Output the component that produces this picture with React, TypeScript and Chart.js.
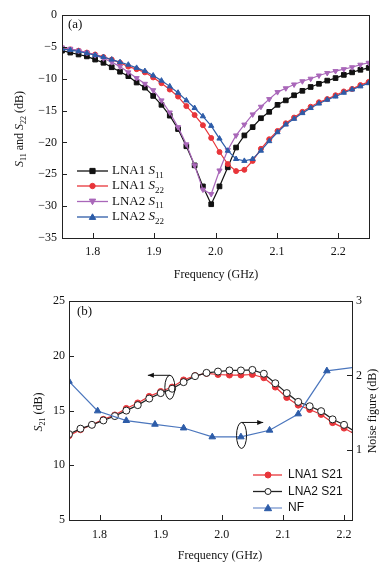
import React, { useEffect, useRef } from 'react';
import { Chart, registerables } from 'chart.js';
Chart.register(...registerables);

// ---------- Data: panel (a) ----------
const freqA = [1.75, 1.7635, 1.777, 1.7905, 1.804, 1.8175, 1.831, 1.8445, 1.858, 1.8715,
  1.885, 1.8985, 1.912, 1.9255, 1.939, 1.9525, 1.966, 1.9795, 1.993, 2.0065,
  2.02, 2.0335, 2.047, 2.0605, 2.074, 2.0875, 2.101, 2.1145, 2.128, 2.1415,
  2.155, 2.1685, 2.182, 2.1955, 2.209, 2.2225, 2.236, 2.2495];
const lna1S11 = [-5.6, -5.9, -6.2, -6.5, -7.0, -7.5, -8.2, -8.9, -9.6, -10.6,
  -11.4, -12.7, -14.1, -15.8, -17.9, -20.6, -23.6, -26.9, -29.7, -26.9,
  -23.9, -20.8, -18.9, -17.6, -16.2, -15.2, -14.1, -13.4, -12.6, -11.9,
  -11.3, -10.8, -10.3, -9.9, -9.4, -9.0, -8.6, -8.3];
const lna1S22 = [-5.2, -5.4, -5.6, -5.9, -6.2, -6.6, -7.0, -7.5, -8.1, -8.5,
  -9.0, -9.8, -10.7, -11.7, -12.8, -14.3, -15.7, -17.3, -19.3, -21.5,
  -23.4, -24.5, -24.3, -22.9, -21.0, -19.5, -18.2, -17.0, -16.1, -15.2,
  -14.4, -13.7, -13.2, -12.6, -12.0, -11.6, -11.0, -10.5];
const lna2S11 = [-5.1, -5.3, -5.6, -5.9, -6.3, -6.8, -7.4, -8.1, -9.0, -9.9,
  -10.8, -11.8, -13.4, -15.3, -17.6, -20.3, -23.6, -27.4, -28.1, -24.4,
  -21.2, -18.9, -17.2, -15.6, -14.4, -13.2, -12.1, -11.5, -10.9, -10.4,
  -10.0, -9.5, -9.1, -8.8, -8.5, -8.2, -7.8, -7.5];
const lna2S22 = [-5.3, -5.5, -5.7, -6.0, -6.3, -6.6, -7.0, -7.4, -7.8, -8.3,
  -8.8, -9.5, -10.3, -11.2, -12.2, -13.4, -14.6, -15.9, -17.4, -19.4,
  -21.3, -22.6, -22.9, -22.6, -21.3, -19.8, -18.4, -17.2, -16.3, -15.4,
  -14.6, -13.9, -13.3, -12.8, -12.2, -11.7, -11.2, -10.7];

// ---------- Data: panel (b) ----------
const freqB = [1.75, 1.76875, 1.7875, 1.80625, 1.825, 1.84375, 1.8625, 1.88125, 1.9, 1.91875,
  1.9375, 1.95625, 1.975, 1.99375, 2.0125, 2.03125, 2.05, 2.06875, 2.0875, 2.10625,
  2.125, 2.14375, 2.1625, 2.18125, 2.2, 2.21875];
const lna1S21 = [12.7, 13.25, 13.7, 14.2, 14.6, 15.2, 15.7, 16.3, 16.75, 17.15,
  17.8, 18.2, 18.4, 18.3, 18.25, 18.25, 18.3, 18.0, 17.15, 16.2,
  15.5, 15.1, 14.65, 13.9, 13.4, 12.8];
const lna2S21 = [12.85, 13.35, 13.7, 14.1, 14.5, 15.0, 15.5, 16.1, 16.6, 17.0,
  17.6, 18.15, 18.45, 18.57, 18.67, 18.67, 18.72, 18.37, 17.5, 16.6,
  15.8, 15.4, 14.95, 14.2, 13.7, 13.05];
const freqNF = [1.75, 1.796875, 1.84375, 1.890625, 1.9375, 1.984375, 2.03125, 2.078125, 2.125, 2.171875, 2.21875];
const nfValues = [1.92, 1.52, 1.39, 1.34, 1.29, 1.17, 1.17, 1.26, 1.48, 2.06, 2.11];

// ---------- Ticks ----------
const xTicks = [1.8, 1.9, 2.0, 2.1, 2.2];
const yTicksA = [-35, -30, -25, -20, -15, -10, -5, 0];
const yTicksB = [5, 10, 15, 20, 25];
const nfTicks = [1, 2, 3];

const SERIF = "'Liberation Serif', 'Times New Roman', serif";
const SANS = "'Liberation Sans', Arial, sans-serif";
const BLACK = '#111111';
const RED = '#e8353a';
const PURPLE = '#a967b9';
const BLUE = '#2d5ca8';
const NFLINE = '#4b76bd';
const NFLEG = '#7a98cf';

type Part = { t: string; i?: boolean; sub?: boolean };

function fontStr(p: Part, size: number, fam: string) {
  const s = p.sub ? Math.round(size * 0.68) : size;
  return `${p.i ? 'italic ' : ''}${s}px ${fam}`;
}
function drawRich(ctx: CanvasRenderingContext2D, parts: Part[], x: number, y: number, size: number, fam: string, align: 'left' | 'center') {
  ctx.textBaseline = 'middle';
  ctx.textAlign = 'left';
  let w = 0;
  for (const p of parts) { ctx.font = fontStr(p, size, fam); w += ctx.measureText(p.t).width; }
  let cx = align === 'center' ? x - w / 2 : x;
  for (const p of parts) {
    ctx.font = fontStr(p, size, fam);
    ctx.fillText(p.t, cx, y + (p.sub ? size * 0.32 : 0));
    cx += ctx.measureText(p.t).width;
  }
}
function drawRotated(ctx: CanvasRenderingContext2D, parts: Part[], x: number, y: number, size: number, fam: string) {
  ctx.save();
  ctx.translate(x, y);
  ctx.rotate(-Math.PI / 2);
  drawRich(ctx, parts, 0, 0, size, fam, 'center');
  ctx.restore();
}
function marker(ctx: CanvasRenderingContext2D, style: string, x: number, y: number, r: number, fill: string, stroke: string) {
  ctx.beginPath();
  if (style === 'rect') ctx.rect(x - r, y - r, 2 * r, 2 * r);
  else if (style === 'circle') ctx.arc(x, y, r, 0, Math.PI * 2);
  else if (style === 'tri') { ctx.moveTo(x, y - r); ctx.lineTo(x + r, y + r * 0.75); ctx.lineTo(x - r, y + r * 0.75); ctx.closePath(); }
  else if (style === 'triDown') { ctx.moveTo(x, y + r); ctx.lineTo(x + r, y - r * 0.75); ctx.lineTo(x - r, y - r * 0.75); ctx.closePath(); }
  ctx.fillStyle = fill; ctx.fill();
  ctx.strokeStyle = stroke; ctx.lineWidth = 1; ctx.stroke();
}
function drawFrameAndTicks(chart: any, rightTicks: boolean) {
  const ctx: CanvasRenderingContext2D = chart.ctx;
  const a = chart.chartArea;
  ctx.save();
  ctx.strokeStyle = '#222';
  ctx.lineWidth = 1;
  ctx.strokeRect(Math.round(a.left) + 0.5, Math.round(a.top) + 0.5, Math.round(a.right - a.left), Math.round(a.bottom - a.top));
  const L = 5;
  ctx.beginPath();
  const xs = chart.scales.x;
  xTicks.forEach(v => { const px = Math.round(xs.getPixelForValue(v)) + 0.5; ctx.moveTo(px, a.bottom); ctx.lineTo(px, a.bottom - L); });
  const ys = chart.scales.y;
  ys.ticks.forEach((t: any) => { const py = Math.round(ys.getPixelForValue(t.value)) + 0.5; ctx.moveTo(a.left, py); ctx.lineTo(a.left + L, py); });
  if (rightTicks) {
    const y1 = chart.scales.y1;
    y1.ticks.forEach((t: any) => { const py = Math.round(y1.getPixelForValue(t.value)) + 0.5; ctx.moveTo(a.right, py); ctx.lineTo(a.right - L, py); });
  }
  ctx.stroke();
  ctx.restore();
}
function arrow(ctx: CanvasRenderingContext2D, x1: number, y1: number, x2: number, y2: number) {
  ctx.beginPath(); ctx.moveTo(x1, y1); ctx.lineTo(x2, y2); ctx.stroke();
  const dir = Math.sign(x2 - x1) || 1;
  ctx.beginPath();
  ctx.moveTo(x2, y2);
  ctx.lineTo(x2 - dir * 6, y2 - 2.5);
  ctx.lineTo(x2 - dir * 6, y2 + 2.5);
  ctx.closePath();
  ctx.fill();
}

const decorA = {
  id: 'decorA',
  afterDraw(chart: any) {
    const ctx: CanvasRenderingContext2D = chart.ctx;
    drawFrameAndTicks(chart, false);
    ctx.save();
    ctx.fillStyle = '#111';
    drawRich(ctx, [{ t: '(a)' }], 68, 25, 13, SERIF, 'left');
    drawRich(ctx, [{ t: 'Frequency (GHz)' }], 216, 275, 12, SERIF, 'center');
    drawRotated(ctx, [{ t: 'S', i: true }, { t: '11', sub: true }, { t: ' and ' }, { t: 'S', i: true }, { t: '22', sub: true }, { t: ' (dB)' }], 20, 129, 12, SERIF);
    const items = [
      { c: BLACK, s: 'rect', r: 2.6, lab: 'LNA1 ', sub: '11' },
      { c: RED, s: 'circle', r: 2.7, lab: 'LNA1 ', sub: '22' },
      { c: PURPLE, s: 'triDown', r: 3.2, lab: 'LNA2 ', sub: '11' },
      { c: BLUE, s: 'tri', r: 3.2, lab: 'LNA2 ', sub: '22' },
    ];
    const rows = [171, 186, 201.5, 217];
    items.forEach((it, k) => {
      const y = rows[k];
      ctx.strokeStyle = it.c; ctx.lineWidth = 1.3;
      ctx.beginPath(); ctx.moveTo(77, y); ctx.lineTo(108, y); ctx.stroke();
      marker(ctx, it.s, 92.5, y, it.r, it.c, it.c);
      ctx.fillStyle = '#111';
      drawRich(ctx, [{ t: it.lab }, { t: 'S', i: true }, { t: it.sub, sub: true }], 112, y, 13, SERIF, 'left');
    });
    ctx.restore();
  },
};

const decorB = {
  id: 'decorB',
  afterDraw(chart: any) {
    const ctx: CanvasRenderingContext2D = chart.ctx;
    drawFrameAndTicks(chart, true);
    const xs = chart.scales.x, ys = chart.scales.y, y1 = chart.scales.y1;
    ctx.save();
    ctx.fillStyle = '#111';
    drawRich(ctx, [{ t: '(b)' }], 77, 22, 13, SERIF, 'left');
    drawRich(ctx, [{ t: 'Frequency (GHz)' }], 220, 266, 12, SERIF, 'center');
    drawRotated(ctx, [{ t: 'S', i: true }, { t: '21', sub: true }, { t: ' (dB)' }], 39, 122, 12, SERIF);
    drawRotated(ctx, [{ t: 'Noise figure (dB)' }], 373, 121, 12, SERIF);
    // annotations
    ctx.strokeStyle = '#111'; ctx.fillStyle = '#111'; ctx.lineWidth = 1;
    const e1x = xs.getPixelForValue(1.915), e1y = ys.getPixelForValue(17.13);
    ctx.beginPath(); ctx.ellipse(e1x, e1y, 5, 12, 0, 0, Math.PI * 2); ctx.stroke();
    arrow(ctx, e1x, e1y - 12, xs.getPixelForValue(1.879), e1y - 12);
    const e2x = xs.getPixelForValue(2.0323), e2y = y1.getPixelForValue(1.19);
    ctx.beginPath(); ctx.ellipse(e2x, e2y, 5, 13, 0, 0, Math.PI * 2); ctx.stroke();
    arrow(ctx, e2x, e2y - 13, xs.getPixelForValue(2.0677), e2y - 13);
    // legend
    const items = [
      { c: RED, mf: RED, ms: RED, s: 'circle', r: 3, lab: 'LNA1 S21' },
      { c: '#222', mf: '#fff', ms: '#222', s: 'circle', r: 3, lab: 'LNA2 S21' },
      { c: NFLEG, mf: BLUE, ms: BLUE, s: 'tri', r: 3.6, lab: 'NF' },
    ];
    const rows = [185, 201.5, 218];
    items.forEach((it, k) => {
      const y = rows[k];
      ctx.strokeStyle = it.c; ctx.lineWidth = 1.3;
      ctx.beginPath(); ctx.moveTo(253, y); ctx.lineTo(282, y); ctx.stroke();
      marker(ctx, it.s, 268, y, it.r, it.mf, it.ms);
      ctx.fillStyle = '#111';
      drawRich(ctx, [{ t: it.lab }], 288, y, 12, SANS, 'left');
    });
    ctx.restore();
  },
};

const tickFont = { family: SERIF, size: 12 };
const minusFmt = (v: any) => { const n = Number(v); return n < 0 ? '\u2212' + Math.abs(n) : String(n); };

function pts(xs: number[], ys: number[]) { return xs.map((x, i) => ({ x, y: ys[i] })); }

export default function App() {
  const refA = useRef<HTMLCanvasElement>(null);
  const refB = useRef<HTMLCanvasElement>(null);

  useEffect(() => {
    const line = (label: string, data: any, color: string, style: string, r: number, order: number, extra: any = {}) => ({
      label, data, borderColor: color, backgroundColor: color, pointBackgroundColor: color, pointBorderColor: color,
      pointStyle: style, pointRadius: r, borderWidth: 1.2, pointBorderWidth: 1, tension: 0, order, ...extra,
    });
    const chartA = new Chart(refA.current as HTMLCanvasElement, {
      type: 'line',
      data: {
        datasets: [
          line('LNA1 S11', pts(freqA, lna1S11), BLACK, 'rect', 3.3, 4),
          line('LNA1 S22', pts(freqA, lna1S22), RED, 'circle', 2.5, 3),
          line('LNA2 S11', pts(freqA, lna2S11), PURPLE, 'triangle', 3, 2, { pointRotation: 180 }),
          line('LNA2 S22', pts(freqA, lna2S22), BLUE, 'triangle', 3, 1),
        ],
      },
      options: {
        animation: false, responsive: false, events: [],
        layout: { padding: { top: 15, right: 17, left: 0, bottom: 0 } },
        plugins: { legend: { display: false }, tooltip: { enabled: false } },
        scales: {
          x: {
            type: 'linear', min: 1.75, max: 2.25,
            afterBuildTicks: (s: any) => { s.ticks = xTicks.map(v => ({ value: v })); },
            afterFit: (s: any) => { s.height = 52; },
            grid: { display: false, drawTicks: false }, border: { display: false },
            ticks: { font: tickFont, color: '#111', padding: 7, maxRotation: 0, autoSkip: false, callback: (v: any) => Number(v).toFixed(1) },
          },
          y: {
            type: 'linear', min: -35, max: 0,
            afterBuildTicks: (s: any) => { s.ticks = yTicksA.map(v => ({ value: v })); },
            afterFit: (s: any) => { s.width = 62; },
            grid: { display: false, drawTicks: false }, border: { display: false },
            ticks: { font: tickFont, color: '#111', padding: 5, autoSkip: false, callback: minusFmt },
          },
        },
      } as any,
      plugins: [decorA],
    });

    const chartB = new Chart(refB.current as HTMLCanvasElement, {
      type: 'line',
      data: {
        datasets: [
          line('LNA1 S21', pts(freqB, lna1S21), RED, 'circle', 3, 3, { yAxisID: 'y' }),
          line('LNA2 S21', pts(freqB, lna2S21), '#222', 'circle', 3.5, 2, { yAxisID: 'y', pointBackgroundColor: '#fff' }),
          line('NF', pts(freqNF, nfValues), NFLINE, 'triangle', 3.8, 1, { yAxisID: 'y1', pointBackgroundColor: BLUE, pointBorderColor: BLUE }),
        ],
      },
      options: {
        animation: false, responsive: false, events: [],
        layout: { padding: { top: 9, right: 0, left: 0, bottom: 0 } },
        plugins: { legend: { display: false }, tooltip: { enabled: false } },
        scales: {
          x: {
            type: 'linear', min: 1.75, max: 2.213,
            afterBuildTicks: (s: any) => { s.ticks = xTicks.map(v => ({ value: v })); },
            afterFit: (s: any) => { s.height = 52; },
            grid: { display: false, drawTicks: false }, border: { display: false },
            ticks: { font: tickFont, color: '#111', padding: 8, maxRotation: 0, autoSkip: false, callback: (v: any) => Number(v).toFixed(1) },
          },
          y: {
            type: 'linear', position: 'left', min: 5, max: 25,
            afterBuildTicks: (s: any) => { s.ticks = yTicksB.map(v => ({ value: v })); },
            afterFit: (s: any) => { s.width = 69; },
            grid: { display: false, drawTicks: false }, border: { display: false },
            ticks: { font: tickFont, color: '#111', padding: 4, autoSkip: false },
          },
          y1: {
            type: 'linear', position: 'right', min: 0.05, max: 3,
            afterBuildTicks: (s: any) => { s.ticks = nfTicks.map(v => ({ value: v })); },
            afterFit: (s: any) => { s.width = 34; },
            grid: { display: false, drawTicks: false }, border: { display: false },
            ticks: { font: tickFont, color: '#111', padding: 4, autoSkip: false },
          },
        },
      } as any,
      plugins: [decorB],
    });

    return () => { chartA.destroy(); chartB.destroy(); };
  }, []);

  return (
    <div style={{ position: 'fixed', left: 0, top: 0, width: 386, height: 572, background: '#fff' }}>
      <canvas ref={refA} width={386} height={290} style={{ position: 'absolute', left: 0, top: 0, width: 386, height: 290 }} />
      <canvas ref={refB} width={386} height={282} style={{ position: 'absolute', left: 0, top: 290, width: 386, height: 282 }} />
    </div>
  );
}
